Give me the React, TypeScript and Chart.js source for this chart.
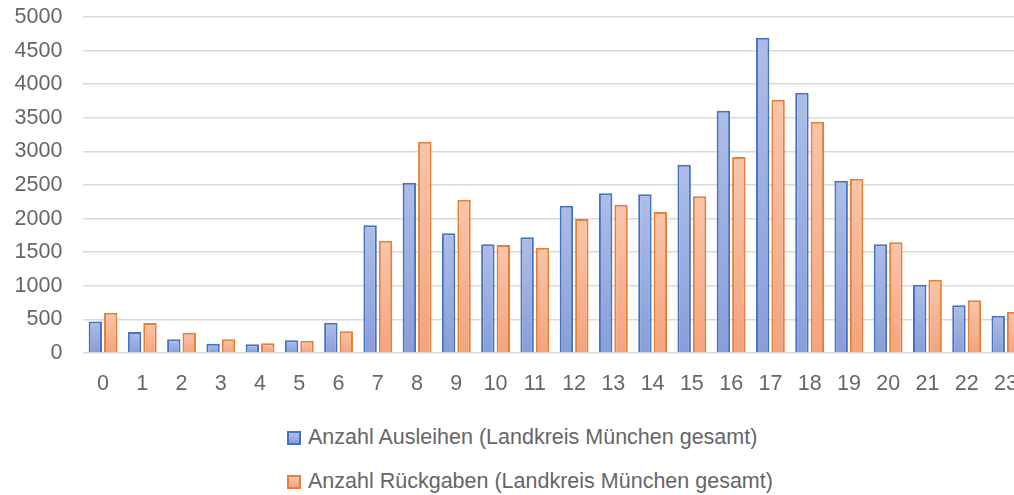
import React, { useEffect, useRef } from "react";
import { Chart, registerables } from "chart.js";

Chart.register(...registerables);

const hours = ["0","1","2","3","4","5","6","7","8","9","10","11","12","13","14","15","16","17","18","19","20","21","22","23"];
const ausleihen = [470, 312, 204, 138, 129, 189, 451, 1900, 2534, 1781, 1617, 1722, 2192, 2376, 2361, 2802, 3606, 4693, 3874, 2564, 1617, 1016, 710, 555];
const rueckgaben = [600, 446, 302, 204, 144, 183, 323, 1671, 3144, 2281, 1607, 1567, 1994, 2207, 2098, 2331, 2917, 3770, 3442, 2594, 1647, 1091, 784, 615];
const seriesNames = ["Anzahl Ausleihen (Landkreis München gesamt)", "Anzahl Rückgaben (Landkreis München gesamt)"];

const FONT = "'Liberation Sans', Arial, sans-serif";
const TEXT = "#666666";
const BLUE_BORDER = "#4472C4";
const BLUE_TOP = "#AEBDE7";
const BLUE_BOTTOM = "#889ED9";
const ORANGE_BORDER = "#ED7D31";
const ORANGE_TOP = "#F8C5AB";
const ORANGE_BOTTOM = "#F4A47F";

function gradientFill(top: string, bottom: string) {
  return (ctx: any) => {
    const chart = ctx.chart;
    if (!chart.chartArea || ctx.type !== "data" || !chart.scales.y) return top;
    const v = ctx.parsed ? ctx.parsed.y : 0;
    const y0 = chart.scales.y.getPixelForValue(v);
    const y1 = chart.scales.y.getPixelForValue(0);
    if (!isFinite(y0) || !isFinite(y1) || Math.abs(y1 - y0) < 1) return bottom;
    const g = chart.ctx.createLinearGradient(0, y0, 0, y1);
    g.addColorStop(0, top);
    g.addColorStop(1, bottom);
    return g;
  };
}

export default function App() {
  const ref = useRef<HTMLCanvasElement | null>(null);

  useEffect(() => {
    if (!ref.current) return;
    const chart = new Chart(ref.current, {
      type: "bar",
      data: {
        labels: hours,
        datasets: [
          {
            label: seriesNames[0],
            data: ausleihen,
            backgroundColor: gradientFill(BLUE_TOP, BLUE_BOTTOM),
            borderColor: BLUE_BORDER,
            borderWidth: 2,
            categoryPercentage: 0.786,
            barPercentage: 0.87,
          },
          {
            label: seriesNames[1],
            data: rueckgaben,
            backgroundColor: gradientFill(ORANGE_TOP, ORANGE_BOTTOM),
            borderColor: ORANGE_BORDER,
            borderWidth: 2,
            categoryPercentage: 0.786,
            barPercentage: 0.87,
          },
        ],
      },
      options: {
        responsive: false,
        animation: false,
        devicePixelRatio: 1,
        layout: { padding: { top: 17, left: 0, right: 6, bottom: 0 } },
        plugins: {
          legend: { display: false },
          tooltip: { enabled: false },
        },
        scales: {
          x: {
            grid: { display: false, drawTicks: false },
            border: { display: false },
            ticks: {
              color: TEXT,
              font: { family: FONT, size: 21.5 },
              padding: 18,
              maxRotation: 0,
              autoSkip: false,
            },
            afterFit: (s: any) => { s.height = 62; },
          },
          y: {
            min: 0,
            max: 5000,
            grid: { color: "#d9d9d9", lineWidth: 1.5, drawTicks: false },
            border: { display: false },
            ticks: {
              stepSize: 500,
              color: TEXT,
              font: { family: FONT, size: 21.5 },
              padding: 21,
              callback: (v: any) => String(v),
            },
            afterFit: (s: any) => {
              s.width = 83.4;
              s.paddingTop = 0;
              s.paddingBottom = 0;
            },
          },
        },
      },
    });
    return () => chart.destroy();
  }, []);

  const legendRow = (top: number, fill: string, border: string, text: string) => (
    <div style={{ position: "absolute", left: 287, top, height: 22, display: "block" }}>
      <div
        style={{
          position: "absolute",
          left: 0,
          top: 4,
          width: 14,
          height: 14,
          boxSizing: "border-box",
          border: `2px solid ${border}`,
          background: fill,
        }}
      />
      <div
        style={{
          position: "absolute",
          left: 21,
          top: 0,
          whiteSpace: "nowrap",
          fontFamily: FONT,
          fontSize: 21.5,
          lineHeight: "21.5px",
          color: TEXT,
        }}
      >
        {text}
      </div>
    </div>
  );

  return (
    <div
      style={{
        position: "fixed",
        left: 0,
        top: 0,
        width: 1014,
        height: 495,
        overflow: "hidden",
        background: "#ffffff",
      }}
    >
      <canvas ref={ref} width={1036} height={415} style={{ position: "absolute", left: 0, top: 0, width: 1036, height: 415 }} />
      {legendRow(426.7, `linear-gradient(${BLUE_TOP}, ${BLUE_BOTTOM})`, BLUE_BORDER, seriesNames[0])}
      {legendRow(470.7, `linear-gradient(${ORANGE_TOP}, ${ORANGE_BOTTOM})`, ORANGE_BORDER, seriesNames[1])}
    </div>
  );
}
